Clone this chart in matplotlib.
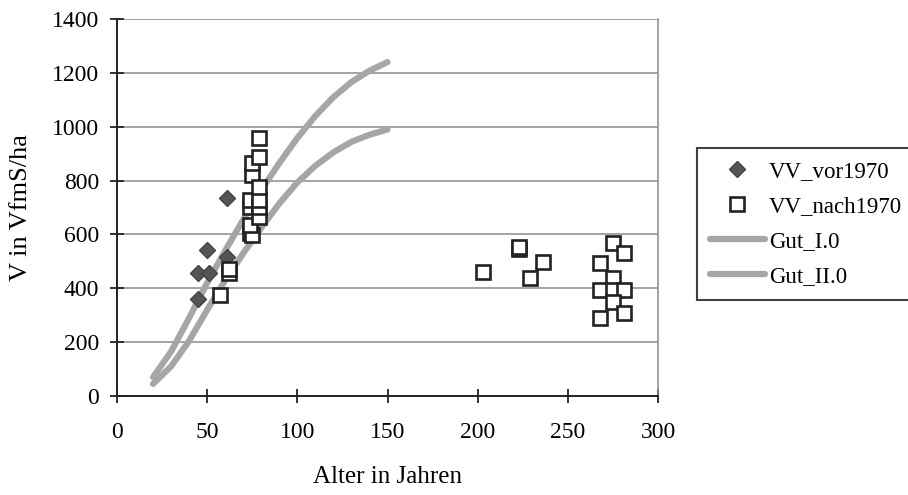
import matplotlib
matplotlib.use("Agg")
import matplotlib.pyplot as plt

plt.rcParams['font.family'] = ['Liberation Serif', 'DejaVu Serif']

# Stand data measured before 1970
vor_alter = [45, 45, 51, 50, 61, 61]
vor_v = [360, 455, 455, 542, 515, 735]

# Stand data measured after 1970
nach_alter = [57, 62, 62, 74, 75, 74, 74, 74, 75, 75, 79, 79, 79, 79, 79, 79,
              203, 223, 223, 236, 229,
              275, 281, 268, 275, 268, 275, 281, 275, 281, 268]
nach_v = [375, 455, 470, 605, 598, 635, 702, 728, 821, 865, 665, 702, 728, 776, 887, 958,
          460, 545, 555, 498, 438,
          568, 531, 494, 438, 394, 394, 394, 349, 308, 290]

# Yield table curves for site classes I.0 and II.0
gut_alter = [20, 30, 40, 50, 60, 70, 80, 90, 100, 110, 120, 130, 140, 150]
gut_I = [70, 165, 290, 420, 540, 655, 765, 865, 958, 1040, 1110, 1166, 1208, 1240]
gut_II = [45, 110, 205, 320, 430, 530, 625, 715, 793, 855, 905, 944, 970, 990]

x_ticks = [0, 50, 100, 150, 200, 250, 300]
y_ticks = [0, 200, 400, 600, 800, 1000, 1200, 1400]

fig = plt.figure(figsize=(9.08, 4.95), dpi=100)
ax = fig.add_axes([117 / 908, 99 / 495, (658 - 117) / 908, (396 - 19) / 495])

for y in y_ticks[1:]:
    ax.axhline(y, color='#8a8a8a', lw=1.1, zorder=1)

ax.plot(gut_alter, gut_I, color='#a6a6a6', lw=4.5, solid_capstyle='round',
        solid_joinstyle='round', zorder=2, label='Gut_I.0')
ax.plot(gut_alter, gut_II, color='#a6a6a6', lw=4.5, solid_capstyle='round',
        solid_joinstyle='round', zorder=2, label='Gut_II.0')
ax.plot(vor_alter, vor_v, linestyle='none', marker='D', ms=8,
        mfc='#555555', mec='#444444', mew=1.0, zorder=3, label='VV_vor1970')
ax.plot(nach_alter, nach_v, linestyle='none', marker='s', ms=10,
        mfc='white', mec='#222222', mew=1.9, zorder=4, label='VV_nach1970')

ax.set_xlim(0, 300)
ax.set_ylim(0, 1400)
ax.set_xticks(x_ticks)
ax.set_yticks(y_ticks)
ax.tick_params(direction='inout', length=10, width=1.3, color='#222222',
               labelsize=17, pad=8)
ax.tick_params(axis='x', pad=14)

ax.spines['top'].set_visible(False)
ax.spines['right'].set_color('#8a8a8a')
ax.spines['right'].set_linestyle((0, (1, 1)))
ax.spines['right'].set_linewidth(1.1)
for side in ['left', 'bottom']:
    ax.spines[side].set_linewidth(1.4)
    ax.spines[side].set_color('#222222')

ax.set_xlabel('Alter in Jahren', fontsize=18, labelpad=16)
ax.set_ylabel('V in VfmS/ha', fontsize=19, labelpad=14)

handles, labels = ax.get_legend_handles_labels()
order = [2, 3, 0, 1]
leg = fig.legend([handles[i] for i in order], [labels[i] for i in order],
                 loc='upper left', bbox_to_anchor=(697 / 908, 1 - 148 / 495),
                 fontsize=16.5, frameon=True, fancybox=False, handlelength=2.4,
                 handletextpad=0.2, borderpad=0.55, borderaxespad=0,
                 labelspacing=0.62)
leg.get_frame().set_edgecolor('#111111')
leg.get_frame().set_linewidth(1.5)

fig.savefig('out.png', dpi=100)
